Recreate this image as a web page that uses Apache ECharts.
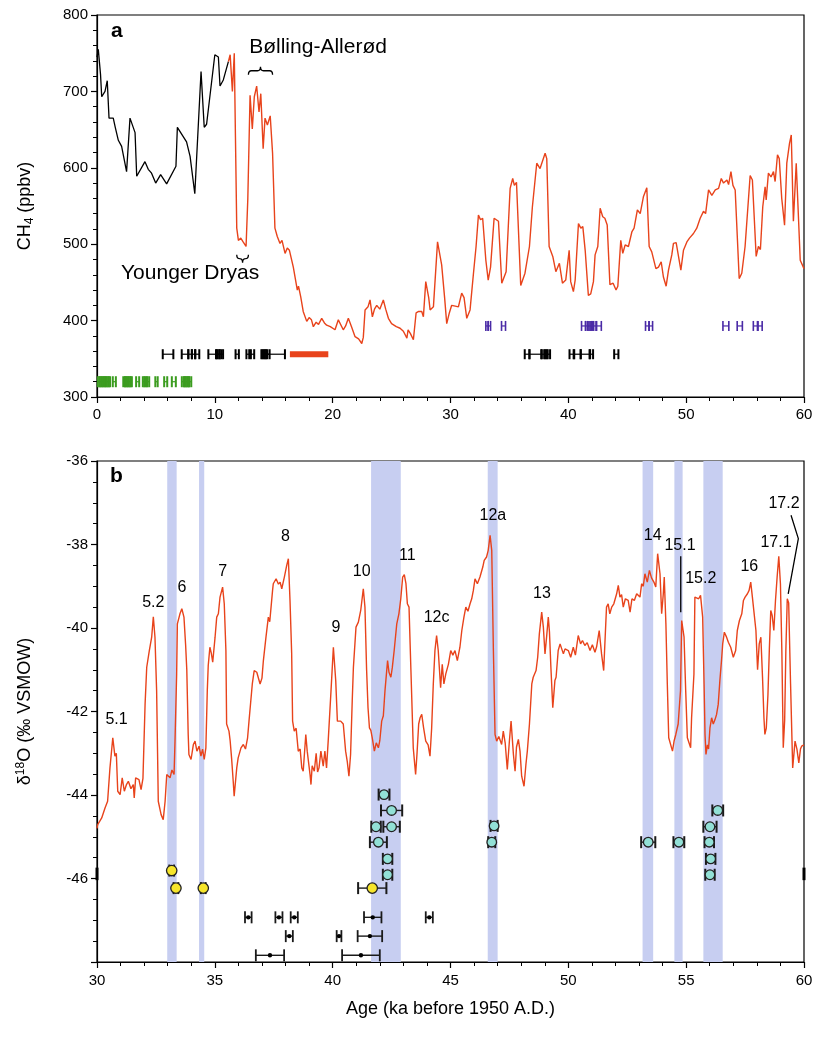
<!DOCTYPE html>
<html>
<head>
<meta charset="utf-8">
<script src="https://cdn.jsdelivr.net/npm/echarts@6/dist/echarts.min.js"></script>
<style>
  html, body { margin: 0; padding: 0; background: #fff; }
  #chart { width: 816px; height: 1042px; }
</style>
</head>
<body>
<div id="chart"></div>
<script>
// ---- panel a : CH4 (ppbv) vs age (ka) ----
// Holocene record (black)
let ch4Holocene = [
  [0, 745], [0.11, 755], [0.3, 722], [0.4, 693], [0.68, 700], [0.87, 714], [1.02, 665], [1.38, 665],
  [1.55, 653], [1.6, 655], [1.81, 636], [2.09, 628], [2.51, 595], [2.8, 665], [3.23, 646], [3.37, 589],
  [4.07, 608], [4.35, 598], [4.63, 593], [4.98, 580], [5.4, 591], [5.91, 579], [6.7, 602], [6.82, 653],
  [7.6, 634], [7.9, 615], [8.3, 566], [8.83, 726], [9.1, 653], [9.3, 657], [10.0, 748], [10.3, 745],
  [10.44, 707], [10.72, 715], [11.15, 739]
];
// glacial record (red)
let ch4Glacial = [
  [11.15, 739], [11.3, 748], [11.49, 700], [11.65, 750], [11.75, 640], [11.86, 521], [12.0, 505], [12.2, 508],
  [12.4, 503], [12.55, 505], [12.65, 497], [12.8, 560], [12.99, 695], [13.18, 651], [13.35, 693], [13.55, 707],
  [13.75, 673], [13.9, 697], [14.1, 625], [14.26, 665], [14.46, 656], [14.7, 668], [14.9, 619], [15.1, 521],
  [15.3, 510], [15.53, 501], [15.7, 505], [15.96, 488], [16.15, 495], [16.33, 492], [16.66, 470], [17.0, 440],
  [17.1, 445], [17.29, 431], [17.5, 412], [17.8, 399], [18.0, 404], [18.2, 401], [18.36, 392], [18.6, 398],
  [18.8, 395], [19.07, 403], [19.3, 397], [19.49, 394], [19.8, 392], [20.2, 388], [20.48, 401], [20.9, 388],
  [21.1, 393], [21.33, 403], [21.6, 392], [21.9, 379], [22.2, 376], [22.47, 370], [22.6, 378], [22.75, 414],
  [23.0, 418], [23.17, 427], [23.37, 405], [23.55, 415], [23.74, 420], [24.0, 415], [24.3, 427], [24.5, 415],
  [24.73, 403], [25.0, 396], [25.4, 392], [25.72, 390], [26.0, 386], [26.3, 377], [26.4, 388], [26.6, 383],
  [26.85, 375], [27.08, 410], [27.3, 412], [27.56, 412], [27.7, 405], [27.9, 451], [28.04, 453], [28.15, 430],
  [28.27, 414], [28.55, 418], [28.9, 503], [29.25, 473], [29.5, 430], [29.68, 396], [29.9, 410], [30.1, 420],
  [30.4, 419], [30.67, 418], [30.95, 436], [31.15, 430], [31.38, 403], [31.66, 414], [31.95, 462], [32.17, 497],
  [32.37, 538], [32.55, 532], [32.73, 534], [33.0, 479], [33.2, 453], [33.4, 470], [33.7, 534], [34.07, 530],
  [34.35, 449], [34.72, 464], [35.06, 573], [35.28, 586], [35.42, 577], [35.6, 581], [35.96, 446], [36.32, 462],
  [36.7, 497], [36.95, 549], [37.32, 606], [37.6, 599], [38.03, 619], [38.17, 612], [38.37, 497], [38.68, 484],
  [38.94, 464], [39.24, 475], [39.5, 449], [39.78, 453], [40.07, 492], [40.2, 451], [40.43, 438], [40.58, 453],
  [40.86, 527], [41.06, 521], [41.23, 523], [41.43, 492], [41.7, 433], [41.9, 435], [42.13, 451], [42.27, 486],
  [42.5, 497], [42.7, 547], [42.92, 536], [43.1, 534], [43.3, 525], [43.53, 447], [43.8, 449], [44.05, 440],
  [44.2, 445], [44.45, 505], [44.62, 488], [44.82, 499], [45.1, 497], [45.39, 516], [45.58, 521], [45.86, 545],
  [46.1, 540], [46.37, 562], [46.66, 574], [46.86, 497], [47.08, 490], [47.43, 468], [47.65, 470], [47.88, 477],
  [48.07, 457], [48.3, 445], [48.5, 466], [48.78, 486], [48.92, 501], [49.15, 502], [49.35, 484], [49.55, 466],
  [49.77, 492], [50.06, 503], [50.28, 508], [50.62, 514], [50.9, 521], [51.19, 534], [51.47, 543], [51.65, 540],
  [51.9, 571], [52.18, 564], [52.47, 571], [52.75, 573], [52.98, 586], [53.17, 580], [53.46, 584], [53.6, 578],
  [53.8, 595], [53.97, 577], [54.16, 571], [54.5, 455], [54.72, 462], [55.0, 497], [55.43, 590], [55.62, 584],
  [55.94, 484], [56.13, 497], [56.3, 493], [56.5, 549], [56.7, 575], [56.79, 558], [56.98, 593], [57.2, 588],
  [57.41, 595], [57.55, 582], [57.75, 617], [57.9, 612], [58.11, 560], [58.35, 525], [58.54, 606], [58.77, 632],
  [58.92, 643], [59.1, 530], [59.34, 606], [59.68, 479], [60.0, 468]
];
// dating bars: [centre age, ppbv level, half width]
let purpleBars = [
  [33.1, 393, 0.1], [33.3, 393, 0.1], [34.5, 393, 0.17],
  [41.3, 393, 0.18], [41.6, 393, 0.15], [41.8, 393, 0.15], [42.0, 393, 0.15], [42.2, 393, 0.15], [42.6, 393, 0.2],
  [46.7, 393, 0.15], [47.0, 393, 0.15], [53.37, 393, 0.25], [54.55, 393, 0.22], [55.9, 393, 0.2], [56.25, 393, 0.2]
];
let blackBars = [
  [6.03, 356, 0.45], [7.47, 356, 0.28], [7.9, 356, 0.15], [8.2, 356, 0.15], [8.5, 356, 0.18],
  [9.8, 356, 0.35], [10.25, 356, 0.15], [10.4, 356, 0.15], [10.55, 356, 0.15], [11.9, 356, 0.14],
  [12.8, 356, 0.12], [13.2, 356, 0.14], [14.1, 356, 0.15], [14.3, 356, 0.15], [14.5, 356, 0.15], [15.0, 356, 0.95],
  [36.5, 356, 0.2], [37.2, 356, 0.5], [37.9, 356, 0.15], [38.1, 356, 0.15], [38.3, 356, 0.15],
  [40.3, 356, 0.2], [40.75, 356, 0.3], [41.45, 356, 0.4], [41.95, 356, 0.15], [44.07, 356, 0.18]
];
let redBar = [[18.0, 356, 1.63]];
let greenBars = [
  [0.15, 320, 0.08], [0.3, 320, 0.08], [0.45, 320, 0.08], [0.6, 320, 0.08], [0.75, 320, 0.08], [0.9, 320, 0.08],
  [1.05, 320, 0.06], [1.47, 320, 0.13], [2.3, 320, 0.07], [2.45, 320, 0.07], [2.6, 320, 0.07], [2.75, 320, 0.07],
  [2.9, 320, 0.06], [3.45, 320, 0.13], [3.95, 320, 0.06], [4.15, 320, 0.06], [4.35, 320, 0.08], [5.05, 320, 0.1],
  [5.83, 320, 0.13], [6.52, 320, 0.17], [7.3, 320, 0.1], [7.45, 320, 0.08], [7.6, 320, 0.08], [7.75, 320, 0.08],
  [7.9, 320, 0.1]
];
let panelAText = [
  {name: 'Bølling-Allerød', value: [18.76, 758]},
  {name: 'Younger Dryas', value: [7.9, 462]}
];
// braces: [from age, to age, ppbv, direction of tip (1 up, -1 down)]
let braces = [[12.85, 14.9, 727, 1], [11.86, 12.85, 481, -1]];

// ---- panel b : d18O (permil) vs age (ka) ----
let d18o = [
  [30.0, -44.8], [30.03, -44.71], [30.2, -44.55], [30.34, -44.31], [30.45, -44.15], [30.55, -43.35], [30.67, -42.63],
  [30.76, -43.07], [30.82, -43.0], [30.88, -43.91], [30.98, -43.99], [31.07, -43.59], [31.16, -43.91], [31.25, -43.75],
  [31.33, -43.67], [31.44, -43.85], [31.54, -43.75], [31.58, -44.07], [31.64, -43.59], [31.78, -43.63], [31.87, -43.87],
  [31.95, -43.6], [32.04, -41.83], [32.11, -40.94], [32.22, -40.54], [32.32, -40.22], [32.39, -39.73], [32.46, -40.22],
  [32.53, -41.5], [32.57, -43.0], [32.6, -44.15], [32.72, -44.47], [32.81, -44.59], [32.89, -44.15], [32.96, -43.51],
  [33.1, -43.59], [33.18, -43.4], [33.27, -43.51], [33.31, -42.71], [33.38, -41.1], [33.41, -39.9], [33.52, -39.66],
  [33.6, -39.54], [33.69, -39.74], [33.76, -40.4], [33.81, -41.0], [33.87, -42.55], [33.9, -43.03], [33.99, -43.15],
  [34.09, -42.79], [34.16, -42.71], [34.24, -42.95], [34.33, -42.83], [34.41, -43.07], [34.48, -42.9], [34.55, -43.15],
  [34.62, -42.87], [34.68, -41.5], [34.72, -40.9], [34.79, -40.46], [34.85, -40.6], [34.91, -40.82], [35.01, -40.22],
  [35.08, -39.74], [35.15, -39.66], [35.22, -39.26], [35.33, -39.02], [35.4, -39.42], [35.47, -40.54], [35.5, -42.3],
  [35.6, -42.47], [35.65, -42.7], [35.71, -43.11], [35.78, -43.67], [35.82, -44.03], [35.93, -43.35], [35.99, -43.11],
  [36.11, -42.87], [36.21, -42.79], [36.3, -42.9], [36.39, -42.63], [36.45, -42.23], [36.52, -42.25], [36.59, -41.34],
  [36.67, -41.02], [36.78, -41.06], [36.92, -41.34], [37.0, -41.2], [37.06, -40.78], [37.17, -40.22], [37.27, -39.74],
  [37.33, -39.85], [37.45, -39.1], [37.48, -38.94], [37.6, -38.82], [37.7, -38.95], [37.77, -38.9], [37.84, -39.06],
  [37.95, -38.78], [38.05, -38.5], [38.12, -38.34], [38.19, -39.34], [38.26, -40.6], [38.3, -42.23], [38.37, -42.47],
  [38.45, -42.4], [38.54, -42.95], [38.62, -42.9], [38.69, -43.35], [38.75, -43.43], [38.86, -42.55], [38.92, -42.95],
  [39.04, -43.51], [39.08, -43.75], [39.13, -43.3], [39.22, -43.43], [39.3, -43.0], [39.36, -43.45], [39.42, -43.35],
  [39.5, -42.95], [39.6, -43.31], [39.67, -42.95], [39.74, -43.35], [39.81, -42.71], [39.93, -41.5], [40.03, -40.46],
  [40.13, -41.26], [40.2, -42.23], [40.27, -42.25], [40.34, -42.23], [40.45, -42.3], [40.55, -42.95], [40.62, -43.2],
  [40.69, -43.55], [40.76, -43.03], [40.83, -41.75], [40.88, -40.94], [40.99, -39.98], [41.09, -39.86], [41.19, -39.58],
  [41.3, -39.06], [41.37, -39.5], [41.44, -41.0], [41.5, -41.91], [41.56, -42.39], [41.62, -42.45], [41.68, -42.63],
  [41.77, -42.95], [41.85, -42.75], [41.94, -42.87], [42.0, -42.7], [42.08, -42.23], [42.15, -42.1], [42.22, -41.5],
  [42.33, -40.78], [42.39, -41.06], [42.47, -41.18], [42.53, -40.95], [42.61, -40.54], [42.72, -39.9], [42.81, -39.66],
  [42.89, -39.3], [42.97, -38.78], [43.04, -38.72], [43.11, -38.94], [43.17, -39.42], [43.24, -39.5], [43.32, -41.0],
  [43.42, -42.87], [43.52, -43.51], [43.58, -43.0], [43.65, -42.3], [43.71, -42.15], [43.78, -42.07], [43.86, -42.4],
  [43.95, -42.71], [44.05, -42.8], [44.13, -43.07], [44.2, -42.4], [44.27, -41.34], [44.34, -40.54], [44.41, -40.18],
  [44.48, -40.54], [44.58, -41.43], [44.65, -40.87], [44.72, -41.34], [44.8, -41.1], [44.91, -40.87], [45.01, -40.54],
  [45.1, -40.65], [45.19, -40.54], [45.29, -40.78], [45.4, -40.46], [45.48, -40.06], [45.57, -39.74], [45.65, -39.5],
  [45.74, -39.6], [45.83, -39.42], [45.9, -39.3], [45.97, -39.1], [46.04, -38.82], [46.14, -38.94], [46.25, -38.78],
  [46.37, -38.54], [46.43, -38.38], [46.53, -38.3], [46.6, -38.14], [46.68, -37.78], [46.75, -38.14], [46.82, -40.54],
  [46.89, -42.55], [46.96, -42.71], [47.05, -42.6], [47.17, -42.79], [47.24, -42.47], [47.32, -42.75], [47.41, -43.39],
  [47.5, -42.7], [47.57, -42.23], [47.67, -43.03], [47.74, -43.43], [47.8, -42.85], [47.88, -42.67], [47.95, -42.95],
  [48.02, -43.55], [48.12, -43.79], [48.2, -43.27], [48.26, -42.95], [48.35, -42.3], [48.45, -41.34], [48.51, -41.18],
  [48.63, -41.02], [48.7, -40.7], [48.77, -40.14], [48.87, -39.62], [48.94, -39.98], [49.01, -40.62], [49.08, -40.2],
  [49.15, -39.74], [49.2, -40.1], [49.26, -40.94], [49.34, -41.91], [49.43, -41.26], [49.48, -41.18], [49.57, -40.54],
  [49.65, -40.38], [49.79, -40.62], [49.86, -40.5], [50.0, -40.54], [50.1, -40.7], [50.21, -40.46], [50.3, -40.65],
  [50.42, -40.18], [50.52, -40.38], [50.6, -40.3], [50.7, -40.42], [50.8, -40.35], [50.92, -40.54], [51.02, -40.4],
  [51.13, -40.58], [51.2, -40.45], [51.31, -40.06], [51.41, -40.62], [51.5, -41.02], [51.62, -39.5], [51.69, -39.42],
  [51.76, -39.66], [51.84, -39.5], [51.93, -39.42], [52.05, -39.18], [52.12, -38.98], [52.19, -39.26], [52.26, -39.2],
  [52.33, -39.5], [52.42, -39.3], [52.54, -39.34], [52.62, -39.62], [52.7, -39.3], [52.8, -39.34], [52.9, -39.18],
  [53.04, -39.26], [53.11, -38.94], [53.18, -39.0], [53.25, -38.7], [53.35, -38.9], [53.44, -38.62], [53.53, -38.8],
  [53.63, -38.9], [53.71, -39.02], [53.79, -38.22], [53.89, -38.7], [53.96, -39.66], [54.03, -39.18], [54.07, -38.78],
  [54.14, -39.9], [54.2, -41.34], [54.26, -42.63], [54.38, -42.87], [54.42, -42.95], [54.49, -42.7], [54.56, -42.55],
  [54.66, -42.3], [54.76, -41.5], [54.81, -39.82], [54.91, -40.22], [54.98, -41.5], [55.05, -42.63], [55.12, -42.75],
  [55.19, -42.87], [55.23, -42.15], [55.33, -41.1], [55.37, -39.26], [55.45, -39.22], [55.53, -39.3], [55.61, -39.22],
  [55.7, -39.74], [55.76, -41.34], [55.8, -42.55], [55.84, -43.03], [55.9, -42.8], [55.95, -42.9], [56.01, -42.39],
  [56.08, -42.15], [56.15, -42.3], [56.22, -42.2], [56.29, -42.07], [56.36, -41.83], [56.43, -41.26], [56.5, -40.78],
  [56.55, -40.38], [56.62, -40.1], [56.7, -40.2], [56.79, -40.34], [56.89, -40.46], [57.0, -40.7], [57.1, -40.54],
  [57.17, -40.06], [57.26, -39.82], [57.36, -39.66], [57.43, -39.34], [57.5, -39.26], [57.6, -39.18], [57.67, -39.1],
  [57.74, -38.9], [57.81, -39.26], [57.88, -39.3], [57.96, -40.06], [58.03, -41.0], [58.1, -40.38], [58.17, -40.22],
  [58.24, -41.18], [58.3, -42.15], [58.34, -42.55], [58.4, -42.4], [58.47, -41.6], [58.53, -40.5], [58.59, -39.58],
  [58.65, -39.7], [58.72, -40.06], [58.79, -39.34], [58.86, -38.78], [58.93, -38.28], [59.0, -38.94], [59.06, -40.54],
  [59.12, -42.87], [59.18, -42.2], [59.23, -40.54], [59.29, -39.3], [59.35, -39.4], [59.43, -41.34], [59.52, -43.35],
  [59.62, -42.71], [59.7, -42.9], [59.78, -43.23], [59.85, -42.9], [59.9, -42.83], [60.0, -42.8]
];
// shaded intervals [start, end] ka
let bands = [[32.98, 33.38], [34.33, 34.55], [41.63, 42.89], [46.58, 47.0], [53.15, 53.6], [54.5, 54.85], [55.73, 56.55]];
// [age, d18O level, half width]
let yellowPts = [[33.17, -45.81, 0.1], [33.35, -46.23, 0.1], [34.51, -46.23, 0.1], [41.68, -46.23, 0.6]];
let cyanPts = [
  [42.18, -43.99, 0.23], [42.5, -44.37, 0.45], [41.84, -44.76, 0.2], [42.5, -44.76, 0.35], [41.94, -45.13, 0.36],
  [42.33, -45.53, 0.2], [42.33, -45.91, 0.2], [46.85, -44.74, 0.15], [46.75, -45.13, 0.15],
  [53.39, -45.13, 0.3], [54.69, -45.13, 0.23], [56.34, -44.37, 0.23], [56.01, -44.76, 0.28], [55.98, -45.13, 0.2],
  [56.04, -45.53, 0.2], [56.01, -45.91, 0.2]
];
let dotBars = [
  [36.42, -46.93, 0.14], [37.72, -46.93, 0.15], [38.37, -46.93, 0.15], [41.7, -46.93, 0.37], [44.1, -46.93, 0.15],
  [38.16, -47.38, 0.15], [40.27, -47.38, 0.1], [41.58, -47.38, 0.52],
  [37.34, -47.84, 0.6], [41.2, -47.84, 0.8]
];
// short marks on the frame: [age, from, to]
let frameMarks = [[30, -45.74, -46.04], [60, -45.74, -46.04]];
let eventLabels = [
  {name: '5.1', value: [30.83, -42.19]}, {name: '5.2', value: [32.39, -39.38]}, {name: '6', value: [33.6, -39.03]},
  {name: '7', value: [35.33, -38.64]}, {name: '8', value: [38.0, -37.8]}, {name: '9', value: [40.14, -39.98]},
  {name: '10', value: [41.23, -38.66]}, {name: '11', value: [43.17, -38.26]}, {name: '12c', value: [44.41, -39.75]},
  {name: '12a', value: [46.8, -37.3]}, {name: '13', value: [48.88, -39.17]}, {name: '14', value: [53.58, -37.78]},
  {name: '15.1', value: [54.74, -38.02]}, {name: '15.2', value: [55.62, -38.82]}, {name: '16', value: [57.68, -38.54]},
  {name: '17.1', value: [58.81, -37.96]}, {name: '17.2', value: [59.15, -37.03]}
];
let leader151 = [[54.77, -38.28], [54.77, -39.62]];
let leader172 = [[59.45, -37.3], [59.76, -37.86], [59.33, -39.18]];

const RED = '#e8431b';
const FONT = 'Liberation Sans, Arial, sans-serif';

function barRender(color, capH, lw, capW, marker) {
  return function (params, api) {
    let c = api.value(0), y = api.value(1), h = api.value(2);
    let a = api.coord([c - h, y]), b = api.coord([c + h, y]);
    let kids = [
      {type: 'line', shape: {x1: a[0], y1: a[1], x2: b[0], y2: b[1]}, style: {stroke: color, lineWidth: lw}}
    ];
    if (capH > 0) {
      kids.push({type: 'line', shape: {x1: a[0], y1: a[1] - capH, x2: a[0], y2: a[1] + capH}, style: {stroke: color, lineWidth: capW}});
      kids.push({type: 'line', shape: {x1: b[0], y1: b[1] - capH, x2: b[0], y2: b[1] + capH}, style: {stroke: color, lineWidth: capW}});
    }
    if (marker) {
      let m = api.coord([c, y]);
      kids.push({type: 'circle', shape: {cx: m[0], cy: m[1], r: marker.r},
        style: {fill: marker.fill, stroke: marker.stroke, lineWidth: marker.lw}});
    }
    return {type: 'group', children: kids};
  };
}

function braceRender(params, api) {
  let a = api.coord([api.value(0), api.value(2)]);
  let b = api.coord([api.value(1), api.value(2)]);
  let s = api.value(3);
  let y0 = a[1], x1 = a[0], x2 = b[0], xm = (x1 + x2) / 2, d = 4 * s;
  let p = 'M' + x1 + ' ' + (y0 + d) + ' Q' + x1 + ' ' + y0 + ' ' + (x1 + 3) + ' ' + y0 +
    ' L' + (xm - 3) + ' ' + y0 + ' Q' + xm + ' ' + y0 + ' ' + xm + ' ' + (y0 - d) +
    ' Q' + xm + ' ' + y0 + ' ' + (xm + 3) + ' ' + y0 + ' L' + (x2 - 3) + ' ' + y0 +
    ' Q' + x2 + ' ' + y0 + ' ' + x2 + ' ' + (y0 + d);
  return {type: 'path', shape: {pathData: p}, style: {stroke: '#000', fill: null, lineWidth: 1.3}};
}

function frameMarkRender(params, api) {
  let a = api.coord([api.value(0), api.value(1)]);
  let b = api.coord([api.value(0), api.value(2)]);
  return {type: 'line', shape: {x1: a[0], y1: a[1], x2: b[0], y2: b[1]}, style: {stroke: '#000', lineWidth: 3}};
}

function textRender(list, size) {
  return function (params, api) {
    let p = api.coord([api.value(0), api.value(1)]);
    return {type: 'text', x: p[0], y: p[1],
      style: {text: list[params.dataIndex].name, fill: '#000', font: size + 'px ' + FONT,
        align: 'center', verticalAlign: 'middle'}};
  };
}

function customSeries(name, data, xi, render, z) {
  return {
    name: name, type: 'custom', xAxisIndex: xi, yAxisIndex: xi, data: data,
    renderItem: render, encode: {x: 0, y: 1}, z: z || 5, silent: true, clip: false
  };
}

let axisCommon = {
  axisLine: {lineStyle: {color: '#000', width: 1.2}},
  axisTick: {length: 6, lineStyle: {color: '#000', width: 1.2}},
  minorTick: {show: true, length: 4, lineStyle: {color: '#000', width: 1}},
  splitLine: {show: false},
  axisLabel: {color: '#000', fontSize: 15, fontFamily: FONT}
};

let chart = echarts.init(document.getElementById('chart'));
let option = {
  animation: false,
  backgroundColor: '#fff',
  textStyle: {fontFamily: FONT},
  grid: [
    {left: 97, right: 12, top: 15, height: 382, show: true, borderColor: '#000', borderWidth: 1.2},
    {left: 97, right: 12, top: 461, height: 501, show: true, borderColor: '#000', borderWidth: 1.2}
  ],
  xAxis: [
    Object.assign({}, axisCommon, {
      gridIndex: 0, type: 'value', min: 0, max: 60, interval: 10,
      minorTick: Object.assign({}, axisCommon.minorTick, {splitNumber: 5}),
      axisLabel: Object.assign({}, axisCommon.axisLabel, {margin: 10})
    }),
    Object.assign({}, axisCommon, {
      gridIndex: 1, type: 'value', min: 30, max: 60, interval: 5,
      minorTick: Object.assign({}, axisCommon.minorTick, {splitNumber: 5}),
      axisLabel: Object.assign({}, axisCommon.axisLabel, {margin: 11}),
      name: 'Age (ka before 1950 A.D.)', nameLocation: 'middle', nameGap: 38,
      nameTextStyle: {fontSize: 18, color: '#000', fontFamily: FONT}
    })
  ],
  yAxis: [
    Object.assign({}, axisCommon, {
      gridIndex: 0, type: 'value', min: 300, max: 800, interval: 100,
      minorTick: Object.assign({}, axisCommon.minorTick, {splitNumber: 5}),
      axisLabel: Object.assign({}, axisCommon.axisLabel, {margin: 9}),
      name: '{n|CH}{s|4}{n| (ppbv)}', nameLocation: 'middle', nameGap: 60, nameRotate: 90,
      nameTextStyle: {
        color: '#000',
        rich: {
          n: {fontSize: 18, color: '#000', fontFamily: FONT, lineHeight: 24},
          s: {fontSize: 12, color: '#000', fontFamily: FONT, lineHeight: 24, padding: [10, 0, 0, 0]}
        }
      }
    }),
    Object.assign({}, axisCommon, {
      gridIndex: 1, type: 'value', min: -48, max: -36, interval: 2,
      minorTick: Object.assign({}, axisCommon.minorTick, {splitNumber: 4}),
      axisLabel: Object.assign({}, axisCommon.axisLabel, {
        margin: 9, formatter: function (v) { return v === -48 ? '' : String(v); }
      }),
      name: '{n|δ}{s|18}{n|O (‰ VSMOW)}', nameLocation: 'middle', nameGap: 60, nameRotate: 90,
      nameTextStyle: {
        color: '#000',
        rich: {
          n: {fontSize: 18, color: '#000', fontFamily: FONT, lineHeight: 24},
          s: {fontSize: 12, color: '#000', fontFamily: FONT, lineHeight: 24, padding: [0, 0, 9, 0]}
        }
      }
    })
  ],
  graphic: [
    {type: 'text', left: 111, top: 21, style: {text: 'a', font: 'bold 21px ' + FONT, fill: '#000'}},
    {type: 'text', left: 110, top: 466, style: {text: 'b', font: 'bold 21px ' + FONT, fill: '#000'}}
  ],
  series: [
    {
      name: 'CH4 Holocene', type: 'line', xAxisIndex: 0, yAxisIndex: 0, data: ch4Holocene,
      showSymbol: false, lineStyle: {color: '#000', width: 1.3}, z: 3
    },
    {
      name: 'CH4 glacial', type: 'line', xAxisIndex: 0, yAxisIndex: 0, data: ch4Glacial,
      showSymbol: false, lineStyle: {color: RED, width: 1.4}, z: 3
    },
    customSeries('purple', purpleBars, 0, barRender('#4a2aa6', 5, 1.2, 1.6)),
    customSeries('black', blackBars, 0, barRender('#000', 5, 1.2, 2)),
    customSeries('red bar', redBar, 0, barRender(RED, 0, 6, 0)),
    customSeries('green', greenBars, 0, barRender('#3b9c1f', 5.5, 1.2, 2)),
    customSeries('braces', braces, 0, braceRender),
    customSeries('textA', panelAText.map(function (d) { return d.value; }), 0, textRender(panelAText, 21), 7),
    {
      name: 'd18O', type: 'line', xAxisIndex: 1, yAxisIndex: 1, data: d18o,
      showSymbol: false, lineStyle: {color: RED, width: 1.4}, z: 3,
      markArea: {
        silent: true, itemStyle: {color: '#c7cef1'},
        data: bands.map(function (b) { return [{xAxis: b[0]}, {xAxis: b[1]}]; })
      }
    },
    customSeries('frame marks', frameMarks, 1, frameMarkRender, 8),
    customSeries('dot bars', dotBars, 1, barRender('#1a1a1a', 6, 1.4, 1.8, {r: 2.2, fill: '#000', stroke: '#000', lw: 0})),
    customSeries('cyan', cyanPts, 1, barRender('#1a1a1a', 6, 1.4, 2, {r: 4.8, fill: '#92e0d6', stroke: '#222', lw: 1.3}), 6),
    customSeries('yellow', yellowPts, 1, barRender('#1a1a1a', 6, 1.4, 2, {r: 5.2, fill: '#f6e52c', stroke: '#222', lw: 1.3}), 6),
    {
      name: 'leader 15.1', type: 'line', xAxisIndex: 1, yAxisIndex: 1, data: leader151,
      showSymbol: false, lineStyle: {color: '#000', width: 1.3}, silent: true, z: 4
    },
    {
      name: 'leader 17.2', type: 'line', xAxisIndex: 1, yAxisIndex: 1, data: leader172,
      showSymbol: false, lineStyle: {color: '#000', width: 1.3}, silent: true, z: 4
    },
    customSeries('events', eventLabels.map(function (d) { return d.value; }), 1, textRender(eventLabels, 16), 7)
  ]
};
chart.setOption(option);
</script>
</body>
</html>
